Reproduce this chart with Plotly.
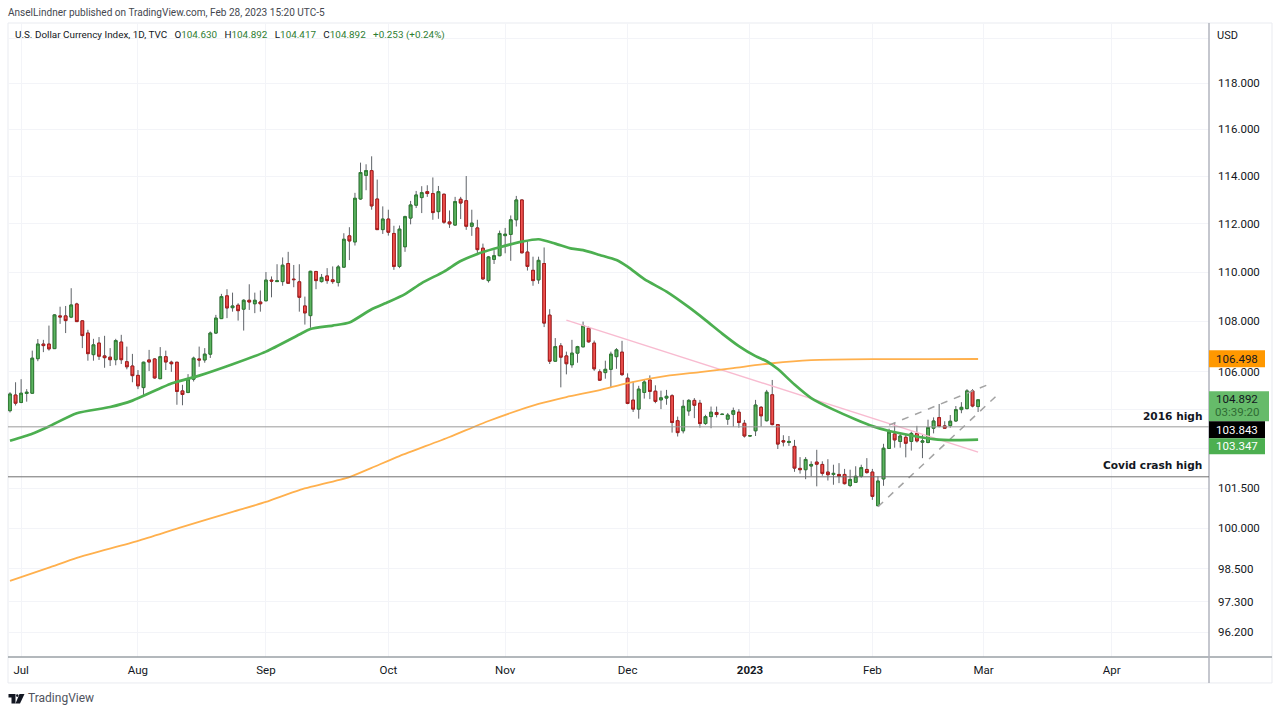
import numpy as np
import pandas as pd
import plotly.graph_objects as go

# daily bars of TVC:DXY
opens = [104.47, 105.08, 104.79, 105.14, 105.15, 106.51, 107.09, 107.09, 106.91, 108.22,
         108.22, 108.17, 108.70, 108.02, 107.53, 106.67, 107.13, 106.62, 106.57, 106.47,
         107.17, 106.39, 106.22, 105.85, 105.37, 106.46, 106.50, 105.72, 106.59, 106.37,
         106.37, 105.24, 105.18, 105.70, 106.50, 106.46, 106.69, 107.53, 108.11, 109.03,
         108.55, 108.65, 108.49, 108.85, 108.71, 108.78, 108.83, 109.67, 109.61, 109.61,
         110.35, 109.71, 109.60, 108.62, 108.23, 110.02, 109.61, 109.84, 109.68, 109.57,
         110.20, 111.49, 111.24, 113.03, 114.03, 114.23, 113.03, 111.75, 112.19, 111.59,
         110.23, 111.04, 112.23, 112.77, 113.09, 113.34, 113.26, 112.50, 113.23, 112.07,
         111.94, 113.02, 112.96, 111.89, 111.82, 110.98, 109.65, 110.52, 110.67, 111.50,
         111.55, 112.16, 112.99, 110.82, 110.07, 109.68, 110.35, 108.25, 106.41, 107.02,
         106.62, 106.27, 106.73, 106.98, 107.73, 107.13, 105.99, 105.96, 106.09, 106.59,
         106.77, 105.74, 104.88, 104.53, 105.18, 105.67, 105.23, 104.89, 104.96, 105.05,
         104.08, 103.69, 104.46, 104.87, 104.76, 103.97, 104.24, 104.40, 104.32, 104.14,
         104.33, 104.41, 103.98, 103.49, 103.69, 104.60, 104.08, 105.09, 103.93, 103.31,
         103.24, 103.09, 102.25, 102.20, 102.34, 102.49, 102.40, 102.11, 102.02, 102.02,
         102.02, 101.60, 101.72, 101.95, 102.21, 102.11, 100.84, 101.85, 103.01, 103.57,
         103.28, 103.44, 103.28, 103.59, 103.25, 103.24, 103.79, 104.20, 103.88, 103.89,
         104.07, 104.51, 104.55, 105.24, 104.63]
highs = [105.19, 105.58, 105.70, 105.31, 106.83, 107.29, 107.26, 107.83, 108.29, 108.59,
         108.62, 109.34, 108.75, 108.05, 107.66, 107.30, 107.37, 107.42, 106.93, 107.30,
         107.46, 106.99, 106.70, 106.06, 106.39, 106.86, 106.53, 106.97, 106.83, 106.43,
         106.38, 105.48, 105.90, 106.59, 106.99, 106.93, 107.59, 108.26, 109.11, 109.30,
         109.16, 108.73, 108.89, 109.50, 109.16, 109.25, 110.00, 109.82, 110.32, 110.60,
         110.83, 110.29, 110.32, 109.00, 110.05, 110.05, 109.92, 110.16, 110.23, 110.29,
         111.60, 111.85, 113.29, 114.57, 114.50, 114.84, 113.85, 112.72, 112.58, 111.91,
         111.92, 112.33, 112.95, 113.37, 113.57, 113.61, 113.94, 113.58, 113.26, 112.55,
         113.12, 113.12, 114.00, 112.58, 112.16, 111.17, 110.66, 110.90, 111.71, 111.82,
         112.34, 113.16, 113.00, 111.27, 110.63, 110.63, 111.01, 108.49, 107.33, 107.13,
         106.79, 107.26, 107.02, 107.99, 107.79, 107.23, 106.09, 106.43, 106.79, 106.93,
         107.22, 105.93, 105.61, 105.44, 105.70, 105.85, 105.46, 105.25, 105.28, 105.11,
         104.24, 104.89, 104.92, 104.96, 104.89, 104.31, 104.63, 104.63, 104.35, 104.38,
         104.59, 104.53, 104.11, 103.51, 104.89, 104.65, 105.28, 105.67, 103.95, 103.52,
         103.49, 103.34, 102.68, 102.68, 102.52, 102.96, 102.52, 102.60, 102.39, 102.45,
         102.23, 102.20, 102.33, 102.39, 102.64, 102.23, 101.95, 103.19, 103.77, 104.01,
         103.59, 103.57, 103.66, 103.88, 103.53, 104.12, 104.21, 104.73, 104.06, 104.30,
         104.65, 104.80, 105.31, 105.31, 104.892]
lows = [104.40, 104.67, 104.76, 104.82, 105.12, 106.41, 106.77, 106.83, 106.90, 107.90,
        107.53, 108.13, 107.98, 106.93, 106.43, 106.43, 106.46, 106.15, 106.22, 106.25,
        106.30, 106.09, 105.58, 105.31, 105.08, 106.02, 105.72, 105.71, 106.06, 105.99,
        104.70, 104.68, 105.15, 105.61, 106.19, 106.35, 106.54, 107.50, 108.10, 108.13,
        108.39, 108.03, 107.63, 108.46, 108.33, 108.39, 108.81, 108.97, 109.61, 109.44,
        109.53, 109.38, 108.39, 107.87, 107.74, 109.30, 109.57, 109.52, 109.52, 109.41,
        110.19, 110.49, 111.09, 113.00, 113.40, 112.58, 111.74, 111.57, 111.50, 110.09,
        110.16, 110.83, 111.97, 112.65, 112.44, 113.12, 112.16, 112.20, 111.99, 111.82,
        111.91, 112.19, 111.74, 111.49, 110.77, 109.68, 109.57, 110.33, 110.65, 110.77,
        110.46, 111.88, 110.77, 110.06, 109.44, 109.52, 107.77, 106.30, 106.39, 105.38,
        105.89, 106.15, 106.35, 106.97, 107.15, 106.03, 105.63, 105.72, 105.37, 106.11,
        105.83, 104.72, 104.42, 104.16, 104.94, 104.92, 104.76, 104.53, 104.70, 103.62,
        103.47, 103.59, 104.27, 104.18, 103.81, 103.92, 103.79, 104.21, 104.31, 103.92,
        103.85, 103.81, 103.43, 103.48, 103.49, 103.85, 104.05, 103.90, 102.99, 103.09,
        103.11, 102.12, 102.05, 101.84, 101.95, 101.57, 101.97, 101.79, 101.63, 101.69,
        101.64, 101.54, 101.72, 101.90, 102.05, 101.06, 100.83, 101.59, 102.99, 103.04,
        103.04, 102.67, 102.93, 103.24, 102.64, 103.21, 103.59, 103.82, 103.77, 103.81,
        104.04, 104.37, 104.52, 104.60, 104.417]
closes = [105.12, 104.76, 105.15, 105.19, 106.53, 107.09, 107.03, 106.90, 108.26, 108.18,
          108.03, 108.66, 107.99, 107.43, 106.71, 107.06, 106.61, 106.55, 106.47, 107.23,
          106.47, 106.19, 105.84, 105.44, 106.37, 106.38, 105.75, 106.59, 106.38, 106.31,
          105.22, 105.10, 105.71, 106.53, 106.46, 106.69, 107.53, 108.13, 109.00, 108.54,
          108.62, 108.43, 108.85, 108.78, 108.85, 108.71, 109.67, 109.63, 109.64, 110.28,
          109.54, 109.69, 108.97, 108.34, 110.03, 109.65, 109.78, 109.65, 109.61, 110.21,
          111.35, 111.28, 113.06, 114.15, 114.23, 112.74, 111.75, 112.19, 111.64, 110.23,
          111.77, 112.29, 112.78, 113.20, 113.30, 113.26, 112.46, 113.34, 112.06, 111.99,
          112.92, 112.86, 111.89, 112.02, 110.92, 109.72, 110.62, 110.67, 111.59, 111.56,
          112.16, 112.99, 110.79, 110.23, 109.65, 110.48, 107.93, 106.41, 106.99, 106.57,
          106.31, 106.73, 106.99, 107.82, 107.18, 106.11, 105.66, 106.09, 106.69, 106.86,
          105.88, 104.75, 104.53, 105.31, 105.59, 105.22, 104.83, 104.97, 105.03, 104.01,
          103.62, 104.64, 104.87, 104.68, 103.97, 104.24, 104.41, 104.32, 104.33, 104.30,
          104.47, 104.01, 103.49, 103.50, 104.69, 104.27, 105.19, 103.93, 103.18, 103.26,
          103.28, 102.26, 102.20, 102.59, 102.40, 102.41, 102.06, 102.01, 102.06, 101.95,
          101.67, 101.83, 101.95, 102.28, 102.09, 101.19, 101.77, 103.02, 103.64, 103.34,
          103.49, 103.21, 103.59, 103.30, 103.30, 103.82, 104.07, 103.86, 103.79, 104.06,
          104.51, 104.60, 105.24, 104.65, 104.892]

# moving averages, sampled along the curves
ma_fast_bars = [0, 4, 7, 12, 18, 22, 29, 34, 40, 46, 52, 54, 58, 61, 65, 68, 71, 74, 78, 81,
                85, 88, 92, 95, 98, 101, 103, 106, 109, 111, 114, 118, 122, 125, 128, 131,
                134, 136, 138, 141, 144, 148, 152, 155, 158, 162, 166, 170, 174]
ma_fast = [103.31, 103.58, 103.86, 104.37, 104.61, 104.86, 105.53, 105.84, 106.29, 106.79,
           107.47, 107.69, 107.83, 107.95, 108.49, 108.78, 109.10, 109.55, 110.02, 110.45,
           110.82, 111.02, 111.25, 111.35, 111.17, 110.96, 110.90, 110.70, 110.49, 110.22,
           109.71, 109.20, 108.57, 108.05, 107.51, 107.01, 106.61, 106.41, 106.10, 105.49,
           104.96, 104.51, 104.13, 103.87, 103.68, 103.51, 103.37, 103.33, 103.347]
ma_slow_bars = [0, 7, 12, 23, 31, 40, 46, 52, 61, 65, 70, 79, 86, 95, 100, 106, 111, 118, 124,
                130, 137, 144, 155, 165, 174]
ma_slow = [98.06, 98.54, 98.90, 99.53, 100.05, 100.61, 100.98, 101.43, 101.92, 102.27, 102.72,
           103.45, 104.07, 104.73, 105.00, 105.27, 105.55, 105.83, 105.98, 106.14, 106.33,
           106.45, 106.49, 106.49, 106.498]

# hand drawn trend lines (bar, price)
pink_bars = [100, 174]
pink_prices = [108.05, 102.87]
wedge_low_bars = [156, 178]
wedge_low_prices = [100.80, 105.19]
wedge_high_bars = [158, 176.5]
wedge_high_prices = [103.91, 105.55]

level_2016 = 103.843
level_covid = 101.93

tick_vals = [120, 118, 116, 114, 112, 110, 108, 106, 104.5, 103, 101.5, 100, 98.5, 97.3, 96.2]
tick_text = ["", "118.000", "116.000", "114.000", "112.000", "110.000", "108.000", "106.000",
             "", "", "101.500", "100.000", "98.500", "97.300", "96.200"]
month_labels = ["Jul", "Aug", "Sep", "Oct", "Nov", "Dec", "<b>2023</b>", "Feb", "Mar", "Apr"]
month_starts = ["2022-07-01", "2022-08-01", "2022-09-01", "2022-10-03", "2022-11-01",
                "2022-12-01", "2023-01-02", "2023-02-01", "2023-03-01", "2023-04-03"]

FONT = "Roboto"
TEXT = "#131722"
UP_FILL, UP_LINE = "#5DB461", "#2E7D32"
DOWN_FILL, DOWN_LINE = "#EF5350", "#A91C1C"

# TradingView counts bars, so the axis runs on the weekday index
days = pd.bdate_range("2022-06-29", "2023-04-28")
bars = np.arange(len(opens))
month_ticks = [days.get_loc(pd.Timestamp(d)) for d in month_starts]

L, R, T, B = 8, 1209, 22.5, 657


def xp(px):
    return (px - L) / (R - L)


def yp(py):
    return (B - py) / (B - T)


fig = go.Figure()

# wicks first, bodies on top so they can have their own colour
fig.add_trace(go.Candlestick(
    x=bars, open=opens, high=highs, low=lows, close=closes, whiskerwidth=0,
    increasing=dict(line=dict(color="#5f6368", width=1), fillcolor=UP_FILL),
    decreasing=dict(line=dict(color="#5f6368", width=1), fillcolor=DOWN_FILL),
    hoverinfo="skip"))
body_top = np.maximum(opens, closes)
body_bottom = np.minimum(opens, closes)
fig.add_trace(go.Candlestick(
    x=bars, open=opens, high=body_top, low=body_bottom, close=closes, whiskerwidth=0,
    increasing=dict(line=dict(color=UP_LINE, width=1), fillcolor=UP_FILL),
    decreasing=dict(line=dict(color=DOWN_LINE, width=1), fillcolor=DOWN_FILL),
    hoverinfo="skip"))

fig.add_trace(go.Scatter(x=pink_bars, y=pink_prices, mode="lines",
                         line=dict(color="#F8BBD0", width=1.5)))
fig.add_trace(go.Scatter(x=wedge_low_bars, y=wedge_low_prices, mode="lines",
                         line=dict(color="#A3A3A3", width=1.5, dash="7px,7px")))
fig.add_trace(go.Scatter(x=wedge_high_bars, y=wedge_high_prices, mode="lines",
                         line=dict(color="#A3A3A3", width=1.5, dash="7px,7px")))
fig.add_trace(go.Scatter(x=ma_slow_bars, y=ma_slow, mode="lines",
                         line=dict(color="#FFB04D", width=1.8, shape="spline", smoothing=0.6)))
fig.add_trace(go.Scatter(x=ma_fast_bars, y=ma_fast, mode="lines",
                         line=dict(color="#4CAF50", width=2.7, shape="spline", smoothing=0.6)))

shapes = [
    # chart frame and the axis rules, they run past the plot area
    dict(type="rect", xref="paper", yref="paper", x0=0, x1=xp(1272), y0=yp(683), y1=yp(22.5),
         line=dict(color="#E9EBF0", width=1), layer="below"),
    dict(type="line", xref="paper", yref="paper", x0=0, x1=xp(1272), y0=0, y1=0,
         line=dict(color="#9AA0A6", width=1.5)),
    dict(type="line", xref="paper", yref="paper", x0=1, x1=1, y0=yp(683), y1=1,
         line=dict(color="#B2B5BE", width=1.5)),
    dict(type="line", xref="paper", yref="y", x0=0, x1=1, y0=level_2016, y1=level_2016,
         line=dict(color="#9A9A9A", width=1)),
    dict(type="line", xref="paper", yref="y", x0=0, x1=1, y0=level_covid, y1=level_covid,
         line=dict(color="#707070", width=1)),
]

# last value badges on the price scale
for top, bottom, right, colour in [(350, 367, 1265, "#FF9800"), (391, 421, 1269, "#66BB6A"),
                                   (421, 438, 1265, "#000000"), (438, 454, 1265, "#4CAF50")]:
    shapes.append(dict(type="rect", xref="paper", yref="paper", x0=1, x1=xp(right),
                       y0=yp(bottom), y1=yp(top), line=dict(width=0), fillcolor=colour))

# TradingView mark
logo = "M {a} {t} L {b} {t} L {b} {u} L {c} {u} L {c} {v} L {d} {v} L {d} {u} L {a} {u} Z".format(
    a=xp(8.5), b=xp(15.5), c=xp(15.5), d=xp(11.5), t=yp(694), u=yp(697.5), v=yp(703.5))
vee = "M {a} {t} L {b} {t} L {c} {v} L {d} {v} Z".format(
    a=xp(19.5), b=xp(24.5), c=xp(20), d=xp(15.5), t=yp(694), v=yp(703.5))
shapes.append(dict(type="path", xref="paper", yref="paper", path=logo,
                   fillcolor="#131722", line=dict(width=0)))
shapes.append(dict(type="path", xref="paper", yref="paper", path=vee,
                   fillcolor="#131722", line=dict(width=0)))
shapes.append(dict(type="circle", xref="paper", yref="paper", x0=xp(16), x1=xp(18.5),
                   y0=yp(697), y1=yp(694.3), fillcolor="#131722", line=dict(width=0)))


def note(px, py, text, size=11, color=TEXT, anchor="left", bold=False, family=FONT):
    label = "<b>%s</b>" % text if bold else text
    fig.add_annotation(xref="paper", yref="paper", x=xp(px), y=yp(py), text=label, showarrow=False,
                       xanchor=anchor, yanchor="middle", align=anchor,
                       font=dict(family=family, size=size, color=color), borderpad=0, borderwidth=0)


GREEN = "#2E7D32"
legend = ("U.S. Dollar Currency Index, 1D, TVC&nbsp;&nbsp;&nbsp;"
          "O<span style='color:{g}'>104.630</span>&nbsp;&nbsp;&nbsp;"
          "H<span style='color:{g}'>104.892</span>&nbsp;&nbsp;&nbsp;"
          "L<span style='color:{g}'>104.417</span>&nbsp;&nbsp;&nbsp;"
          "C<span style='color:{g}'>104.892</span>&nbsp;&nbsp;&nbsp;"
          "<span style='color:{g}'>+0.253 (+0.24%)</span>").format(g=GREEN)

note(8, 12, "AnselLindner published on TradingView.com, Feb 28, 2023 15:20 UTC-5", size=10.05, color="#44474F")
note(15, 34.5, legend, size=9.9)
note(1217, 35, "USD", size=11)
note(1202, 416, "2016 high", size=10.6, anchor="right", bold=True, family="DejaVu Sans")
note(1202, 465, "Covid crash high", size=10.6, anchor="right", bold=True, family="DejaVu Sans")
note(1237, 358.5, "106.498", size=11.5, anchor="center")
note(1237, 399, "104.892", size=11.5, anchor="center")
note(1237, 412, "03:39:20", size=11.5, color="#2F6B33", anchor="center")
note(1237, 429.5, "103.843", size=11.5, color="#FFFFFF", anchor="center")
note(1237, 446, "103.347", size=11.5, color="#FFFFFF", anchor="center")
note(28, 698, "TradingView", size=12, color="#50535E")

fig.update_layout(
    width=1280, height=713, margin=dict(l=L, r=1280 - R, t=T, b=713 - B),
    paper_bgcolor="white", plot_bgcolor="white", showlegend=False, shapes=shapes,
    font=dict(family=FONT, size=11.5, color=TEXT),
    xaxis=dict(range=[-0.36, 215.5], rangeslider=dict(visible=False), tickmode="array",
               tickvals=month_ticks, ticktext=month_labels, ticks="", showline=False,
               zeroline=False, gridcolor="#F3F4F8", gridwidth=1, ticklabelstandoff=4),
    yaxis=dict(type="log", side="right", range=[np.log10(95.32), np.log10(120.68)], tickmode="array",
               tickvals=tick_vals, ticktext=tick_text, ticks="", showline=False, zeroline=False,
               gridcolor="#F3F4F8", gridwidth=1, ticklabelstandoff=8),
)

fig.write_html("out.html", config=dict(displayModeBar=False),
               post_script="document.body.style.margin='0';document.body.style.overflow='hidden';")
